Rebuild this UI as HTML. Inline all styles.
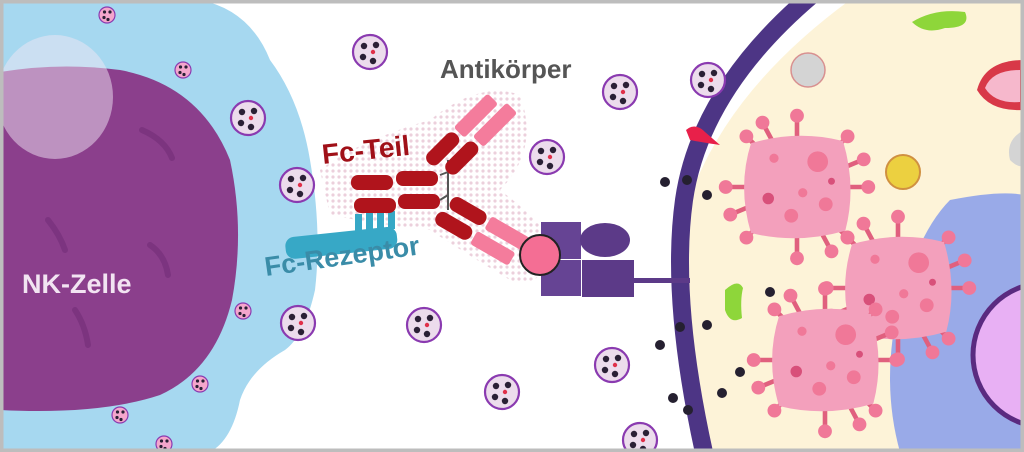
<!DOCTYPE html>
<html><head><style>
html,body{margin:0;padding:0;background:#fff}
svg{display:block}
text{font-family:"Liberation Sans",sans-serif;font-weight:bold}
</style></head><body>
<svg width="1024" height="452" viewBox="0 0 1024 452" xmlns="http://www.w3.org/2000/svg">
<defs>
<pattern id="dots" width="6" height="6" patternUnits="userSpaceOnUse"><circle cx="3" cy="3" r="1.6" fill="#ecd0dc"/></pattern>
<g id="gr"><circle r="17" fill="#ecdcec" stroke="#8a3ab0" stroke-width="2.2"/><circle cx="-6" cy="-6" r="3.2" fill="#2a2035"/><circle cx="6" cy="-7" r="3.2" fill="#2a2035"/><circle cx="-7" cy="5" r="3.2" fill="#2a2035"/><circle cx="3" cy="9" r="3.2" fill="#2a2035"/><circle cx="3" cy="0" r="2.2" fill="#e0304a"/></g>
<g id="sg"><circle r="8" fill="#f4a6cc" stroke="#8a3ab0" stroke-width="1.2"/><circle cx="-2.5" cy="-3" r="1.6" fill="#2a2035"/><circle cx="3" cy="-3" r="1.6" fill="#2a2035"/><circle cx="-3" cy="2.5" r="1.6" fill="#2a2035"/><circle cx="1" cy="4.5" r="1.6" fill="#2a2035"/></g>
<g id="vir">
<g stroke="#e0607e" stroke-width="4" fill="#f07898">
<line x1="0" y1="0" x2="0" y2="-62"/><circle cx="0" cy="-62" r="6" stroke="none"/>
<line x1="0" y1="0" x2="44" y2="-44"/><circle cx="44" cy="-44" r="6" stroke="none"/>
<line x1="0" y1="0" x2="62" y2="0"/><circle cx="62" cy="0" r="6" stroke="none"/>
<line x1="0" y1="0" x2="44" y2="44"/><circle cx="44" cy="44" r="6" stroke="none"/>
<line x1="0" y1="0" x2="0" y2="62"/><circle cx="0" cy="62" r="6" stroke="none"/>
<line x1="0" y1="0" x2="-44" y2="44"/><circle cx="-44" cy="44" r="6" stroke="none"/>
<line x1="0" y1="0" x2="-62" y2="0"/><circle cx="-62" cy="0" r="6" stroke="none"/>
<line x1="0" y1="0" x2="-44" y2="-44"/><circle cx="-44" cy="-44" r="6" stroke="none"/>
<line x1="0" y1="0" x2="-30" y2="-56"/><circle cx="-30" cy="-56" r="6" stroke="none"/>
<line x1="0" y1="0" x2="30" y2="56"/><circle cx="30" cy="56" r="6" stroke="none"/>
<line x1="0" y1="0" x2="58" y2="-24"/><circle cx="58" cy="-24" r="6" stroke="none"/>
<line x1="0" y1="0" x2="-58" y2="24"/><circle cx="-58" cy="24" r="6" stroke="none"/>
</g>
<path d="M-40,-38 Q0,-50 40,-40 Q52,0 42,38 Q0,50 -40,40 Q-52,0 -40,-38Z" fill="#f3a0bc"/>
<circle cx="18" cy="-22" r="9" fill="#f07898"/><circle cx="-25" cy="10" r="5" fill="#d8507a"/><circle cx="-5" cy="25" r="6" fill="#f07898"/><circle cx="25" cy="15" r="6" fill="#f07898"/><circle cx="5" cy="5" r="4" fill="#f07898"/><circle cx="-20" cy="-25" r="4" fill="#f07898"/><circle cx="30" cy="-5" r="3" fill="#d8507a"/>
</g>
</defs>
<rect width="1024" height="452" fill="#fff"/>
<!-- NK cell -->
<path d="M0,0 L200,0 Q250,10 270,60 Q300,100 310,160 Q322,230 315,290 Q305,335 285,350 Q250,370 240,400 Q232,440 210,452 L0,452Z" fill="#a6d8f0"/>
<path d="M0,72 Q60,62 120,70 Q200,85 230,160 Q245,230 232,300 Q215,370 160,395 Q100,415 0,410Z" fill="#8b3f8c"/>
<g stroke="#76307a" stroke-width="6" stroke-linecap="round" fill="none" opacity="0.7"><path d="M142,130 Q165,140 172,158"/><path d="M48,220 Q60,235 65,250"/><path d="M150,245 Q165,255 168,275"/><path d="M75,310 Q85,325 88,345"/></g>
<ellipse cx="55" cy="97" rx="58" ry="62" fill="#f0e6f4" opacity="0.5"/>
<text x="22" y="293" font-size="27" fill="#f2e4f2">NK-Zelle</text>
<!-- target cell -->
<path d="M850,0 Q700,110 676,250 Q668,350 700,452 L1024,452 L1024,0Z" fill="#fdf3d8"/>
<path d="M950,200 Q1000,190 1024,195 L1024,452 L900,452 Q880,380 900,300 Q920,230 950,200Z" fill="#8ea2ea" opacity="0.9"/>
<circle cx="1045" cy="355" r="72" fill="#e8b0f4" stroke="#5a2a80" stroke-width="5"/>
<path d="M812,-5 Q700,90 684,200 Q670,300 705,457" fill="none" stroke="#4d3585" stroke-width="18"/>
<path d="M912,22 Q935,8 965,12 Q972,28 945,28 Q925,35 912,22Z" fill="#8ed63a"/>
<path d="M725,290 Q738,278 743,288 Q740,300 742,318 Q730,325 725,310Z" fill="#8ed63a"/>
<circle cx="808" cy="70" r="17" fill="#d4d4d4" stroke="#d89090" stroke-width="1.5"/>
<circle cx="903" cy="172" r="17" fill="#ecd040" stroke="#d09040" stroke-width="2"/>
<path d="M977,90 Q985,60 1024,60 L1024,110 Q990,112 977,90Z" fill="#d83848"/>
<path d="M985,88 Q992,70 1020,70 L1020,102 Q995,104 985,88Z" fill="#f6b8cc"/>
<path d="M1024,130 Q1005,140 1010,160 Q1018,168 1024,166Z" fill="#d4d4d4"/>
<g transform="translate(797 187) scale(1.15)"><use href="#vir"/></g>
<g transform="translate(898 288) scale(1.15)"><use href="#vir"/></g>
<g transform="translate(825 360) scale(1.15)"><use href="#vir"/></g>
<g fill="#252030"><circle cx="665" cy="182" r="5"/><circle cx="687" cy="180" r="5"/><circle cx="707" cy="195" r="5"/><circle cx="770" cy="292" r="5"/><circle cx="680" cy="327" r="5"/><circle cx="707" cy="325" r="5"/><circle cx="660" cy="345" r="5"/><circle cx="740" cy="372" r="5"/><circle cx="673" cy="398" r="5"/><circle cx="688" cy="410" r="5"/><circle cx="722" cy="393" r="5"/></g>
<path d="M686,130 Q695,122 705,132 L720,145 Q700,142 690,140Z" fill="#e8204a"/>
<!-- antibody glow -->
<path d="M320,170 Q360,140 430,120 Q480,80 520,95 Q540,150 500,190 Q540,220 560,250 Q540,290 510,280 Q460,250 430,230 Q380,225 330,215Z" fill="url(#dots)"/>
<!-- receptor -->
<rect x="285" y="232" width="112" height="22" rx="9" fill="#37a8c6" transform="rotate(-6 340 240)"/>
<g fill="#37a8c6"><rect x="355" y="214" width="7" height="18"/><rect x="366" y="213" width="7" height="18"/><rect x="377" y="212" width="7" height="18"/><rect x="388" y="211" width="7" height="18"/></g>
<!-- Fc -->
<g fill="#b0141c">
<rect x="351" y="175" width="42" height="15" rx="7"/><rect x="354" y="198" width="42" height="15" rx="7"/>
<rect x="396" y="171" width="42" height="15" rx="7"/><rect x="398" y="194" width="42" height="15" rx="7"/>
</g>
<g stroke="#555" stroke-width="2"><line x1="440" y1="175" x2="448" y2="172"/><line x1="440" y1="200" x2="448" y2="195"/><line x1="448" y1="160" x2="448" y2="210"/></g>
<!-- upper arm -->
<g transform="rotate(-45 460 145)">
<rect x="425" y="128" width="40" height="15" rx="7" fill="#b0141c"/><rect x="432" y="148" width="40" height="15" rx="7" fill="#b0141c"/>
<rect x="468" y="128" width="48" height="15" rx="3" fill="#f47c9c"/><rect x="475" y="148" width="48" height="15" rx="3" fill="#f47c9c"/>
</g>
<!-- lower arm -->
<g transform="rotate(30 460 215)">
<rect x="445" y="200" width="40" height="15" rx="7" fill="#b0141c"/><rect x="440" y="220" width="40" height="15" rx="7" fill="#b0141c"/>
<rect x="488" y="200" width="44" height="15" rx="3" fill="#f47c9c"/><rect x="483" y="220" width="44" height="15" rx="3" fill="#f47c9c"/>
</g>
<!-- antigen -->
<rect x="541" y="222" width="40" height="37" fill="#664494"/>
<ellipse cx="605" cy="240" rx="25" ry="17" fill="#5c3a88"/>
<rect x="541" y="260" width="40" height="36" fill="#664494"/>
<rect x="582" y="260" width="52" height="37" fill="#5c3a88"/>
<rect x="634" y="278" width="56" height="5" fill="#5c3a88"/>
<circle cx="540" cy="255" r="20" fill="#f46e94" stroke="#222" stroke-width="2"/>
<!-- granules -->
<use href="#gr" x="370" y="52"/><use href="#gr" x="248" y="118"/><use href="#gr" x="297" y="185"/>
<use href="#gr" x="620" y="92"/><use href="#gr" x="547" y="157"/><use href="#gr" x="708" y="80"/>
<use href="#gr" x="424" y="325"/><use href="#gr" x="502" y="392"/><use href="#gr" x="612" y="365"/>
<use href="#gr" x="298" y="323"/><use href="#gr" x="640" y="440"/>
<use href="#sg" x="107" y="15"/><use href="#sg" x="183" y="70"/><use href="#sg" x="243" y="311"/>
<use href="#sg" x="200" y="384"/><use href="#sg" x="120" y="415"/><use href="#sg" x="164" y="444"/>
<!-- labels -->
<text x="440" y="78" font-size="26" fill="#555">Antikörper</text>
<text x="323" y="164" font-size="28" fill="#a01018" transform="rotate(-6 323 164)">Fc-Teil</text>
<text x="266" y="276" font-size="27" fill="#3a8ca8" transform="rotate(-8 266 276)">Fc-Rezeptor</text>
<rect x="1.5" y="1.5" width="1021" height="449" fill="none" stroke="#bdbdbd" stroke-width="4"/>
</svg>
</body></html>
